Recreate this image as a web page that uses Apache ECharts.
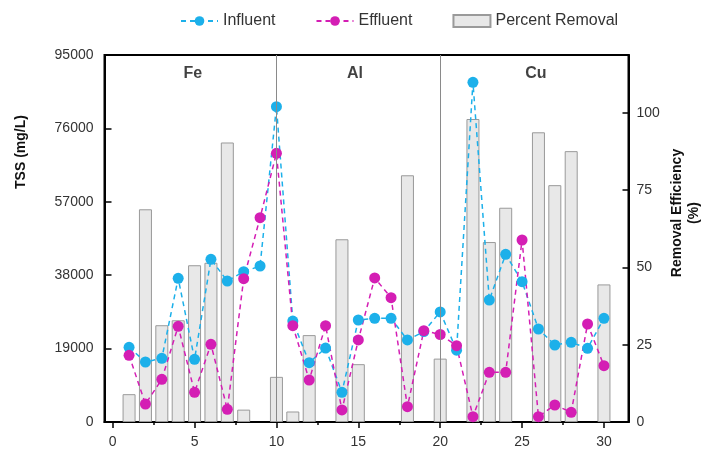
<!DOCTYPE html>
<html>
<head>
<meta charset="utf-8">
<script src="https://cdn.jsdelivr.net/npm/echarts@6/dist/echarts.min.js"></script>
<style>
  html, body { margin: 0; padding: 0; background: #fff; }
  #main { width: 717px; height: 452px; }
</style>
</head>
<body>
<div id="main"></div>
<script>
// 样品编号
var samples = [1, 2, 3, 4, 5, 6, 7, 8, 9, 10, 11, 12, 13, 14, 15, 16, 17, 18, 19, 20, 21, 22, 23, 24, 25, 26, 27, 28, 29, 30];
// TSS 进水 / 出水 (mg/L)
var influent = [19340, 15530, 16480, 37200, 16220, 42110, 36500, 38900, 40380, 81620,
  26140, 15360, 19150, 7680, 26400, 26840, 26840, 21230, 23400, 28500,
  18600, 87930, 31580, 43400, 36320, 24070, 19930, 20630, 19070, 26840];
var effluent = [17260, 4660, 11050, 24770, 7690, 20110, 3280, 37100, 52890, 69560,
  24940, 10870, 24940, 3110, 21230, 37280, 32180, 3970, 23650, 22650,
  19760, 1380, 12860, 12860, 47110, 1380, 4400, 2510, 25370, 14570];
// 去除率 (%)
var removal = [9.0, 68.8, 31.3, 32.9, 50.7, 51.5, 90.4, 4.0, null, 14.6,
  3.4, 28.1, null, 59.1, 18.7, null, null, 79.8, null, 20.5,
  null, 98.0, 58.2, 69.3, null, 93.7, 76.6, 87.6, null, 44.5];

// 刻度
var xTicks = [0, 5, 10, 15, 20, 25, 30];
var xMinorTicks = [2.5, 7.5, 12.5, 17.5, 22.5, 27.5];
var rightTicks = [0, 25, 50, 75, 100];

// 分组
var groupNames = ['Fe', 'Al', 'Cu'];
var groupX = [4.9, 14.8, 25.85];
var groupY = 90300;
var dividers = [10, 20];

function pairs(vals) {
  return samples.map(function (s, i) { return [s, vals[i]]; });
}

var myChart = echarts.init(document.getElementById('main'));
var font = 'Liberation Sans, Arial, sans-serif';

myChart.setOption({
  animation: false,
  textStyle: { fontFamily: font },
  legend: {
    data: ['Influent', 'Effluent', { name: 'Percent Removal', icon: 'rect' }],
    left: 175,
    top: 8,
    itemWidth: 37,
    itemHeight: 12,
    itemGap: 40,
    textStyle: { fontSize: 16, color: '#333', fontFamily: font }
  },
  grid: {
    left: 104.5,
    right: 88.5,
    top: 55,
    bottom: 30,
    show: true,
    borderColor: '#000',
    borderWidth: 2,
    containLabel: false
  },
  xAxis: [{
    type: 'value',
    min: -0.5,
    max: 31.5,
    axisLine: { onZero: false, lineStyle: { color: '#000', width: 2 } },
    axisTick: { show: true, inside: false, length: 6, customValues: xTicks, lineStyle: { color: '#000', width: 1.5 } },
    axisLabel: { customValues: xTicks, margin: 13, fontSize: 14, color: '#333', fontFamily: font },
    splitLine: { show: false }
  }, {
    type: 'value',
    min: -0.5,
    max: 31.5,
    position: 'bottom',
    axisLine: { show: false, onZero: false },
    axisTick: { show: true, inside: false, length: 3, customValues: xMinorTicks, lineStyle: { color: '#000', width: 1.5 } },
    axisLabel: { show: false },
    splitLine: { show: false }
  }],
  yAxis: [{
    type: 'value',
    min: 0,
    max: 95000,
    interval: 19000,
    axisLine: { show: true, onZero: false, lineStyle: { color: '#000', width: 2 } },
    axisTick: { show: true, inside: true, length: 7, lineStyle: { color: '#000', width: 1.5 } },
    axisLabel: { margin: 11, fontSize: 14, color: '#333', fontFamily: font, formatter: function (v) { return String(v); } },
    splitLine: { show: false }
  }, {
    type: 'value',
    min: 0,
    max: 118.7,
    position: 'right',
    axisLine: { show: true, onZero: false, lineStyle: { color: '#000', width: 2 } },
    axisTick: { show: true, inside: true, length: 6, customValues: rightTicks, lineStyle: { color: '#000', width: 1.5 } },
    axisLabel: { customValues: rightTicks, margin: 8, fontSize: 14, color: '#333', fontFamily: font },
    splitLine: { show: false }
  }],
  graphic: [{
    type: 'text',
    x: 21,
    y: 152,
    rotation: Math.PI / 2,
    style: {
      text: 'TSS (mg/L)',
      font: 'bold 14px ' + font,
      fill: '#111',
      textAlign: 'center',
      textVerticalAlign: 'middle'
    }
  }, {
    type: 'text',
    x: 686,
    y: 213,
    rotation: Math.PI / 2,
    style: {
      text: 'Removal Efficiency\n(%)',
      font: 'bold 14px ' + font,
      fill: '#111',
      lineHeight: 17,
      textAlign: 'center',
      textVerticalAlign: 'middle'
    }
  }],
  series: [{
    name: 'Percent Removal',
    type: 'bar',
    yAxisIndex: 1,
    barWidth: 13,
    itemStyle: { color: '#e8e8e8', borderColor: '#9a9a9a', borderWidth: 1 },
    data: pairs(removal),
    markLine: {
      silent: true,
      symbol: 'none',
      label: { show: false },
      lineStyle: { color: '#8a8a8a', width: 1, type: 'solid' },
      data: dividers.map(function (d) { return { xAxis: d }; })
    }
  }, {
    name: 'Influent',
    type: 'line',
    yAxisIndex: 0,
    symbol: 'circle',
    symbolSize: 11,
    itemStyle: { color: '#1cb0ea' },
    lineStyle: { color: '#1cb0ea', width: 1.5, type: [5, 4] },
    data: pairs(influent)
  }, {
    name: 'Effluent',
    type: 'line',
    yAxisIndex: 0,
    symbol: 'circle',
    symbolSize: 11,
    itemStyle: { color: '#d41eb4' },
    lineStyle: { color: '#d41eb4', width: 1.5, type: [5, 4] },
    data: pairs(effluent)
  }, {
    name: 'groups',
    type: 'scatter',
    yAxisIndex: 0,
    symbolSize: 0,
    silent: true,
    label: {
      show: true,
      position: 'inside',
      formatter: '{b}',
      fontSize: 16,
      fontWeight: 'bold',
      color: '#111',
      fontFamily: font
    },
    data: groupNames.map(function (n, i) { return { name: n, value: [groupX[i], groupY] }; })
  }]
});
</script>
</body>
</html>
